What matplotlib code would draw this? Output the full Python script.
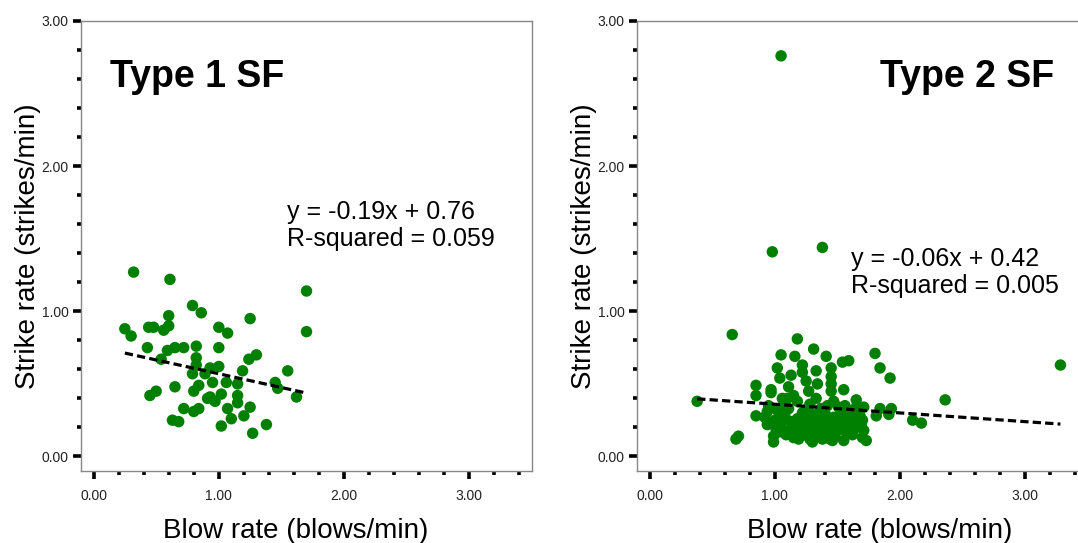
import matplotlib
matplotlib.use("Agg")
import matplotlib.pyplot as plt
import numpy as np
from matplotlib.ticker import MultipleLocator, FormatStrFormatter

plt.rcParams['font.family'] = ['Liberation Sans', 'DejaVu Sans']

# blow rate vs strike rate, type 1 stone flakes
blow1 = [0.32, 0.61, 1.70, 0.79, 0.86, 0.60, 1.25, 0.25, 0.30, 0.44, 0.48, 0.60,
         0.56, 1.00, 1.07, 1.70, 0.43, 0.59, 0.65, 0.72, 0.82, 1.00, 0.54, 0.82,
         0.82, 1.30, 1.24, 1.00, 0.93, 0.79, 0.89, 1.19, 1.55, 0.95, 1.06, 1.15,
         1.45, 1.47, 1.62, 0.50, 0.45, 0.65, 0.84, 0.80, 0.93, 0.97, 1.02, 1.15,
         1.15, 0.72, 0.80, 0.84, 1.07, 1.25, 1.20, 1.10, 0.63, 0.68, 1.02, 1.38,
         1.27, 0.91]
strike1 = [1.27, 1.22, 1.14, 1.04, 0.99, 0.97, 0.95, 0.88, 0.83, 0.89, 0.89, 0.90,
           0.87, 0.89, 0.85, 0.86, 0.75, 0.73, 0.75, 0.75, 0.76, 0.75, 0.67, 0.68,
           0.63, 0.70, 0.67, 0.62, 0.61, 0.57, 0.57, 0.59, 0.59, 0.51, 0.51, 0.50,
           0.51, 0.47, 0.41, 0.45, 0.42, 0.48, 0.49, 0.45, 0.41, 0.38, 0.43, 0.42,
           0.37, 0.33, 0.31, 0.33, 0.33, 0.34, 0.28, 0.26, 0.25, 0.24, 0.21, 0.22,
           0.16, 0.40]

# type 2 stone flakes
blow2 = [1.05, 0.98, 1.38, 0.66, 3.28, 2.36, 0.38,
         1.18, 1.05, 1.16, 1.31, 1.41, 1.54, 1.59, 1.80, 1.84, 1.92, 1.02, 1.22,
         1.22, 1.33, 1.45, 1.45, 1.45, 1.04, 1.13, 1.11, 1.25, 1.34, 0.85, 0.85,
         0.97, 0.97, 1.15, 1.27, 1.33, 1.45, 1.55, 1.06, 1.47, 1.56, 1.65, 1.65,
         0.85, 0.94, 0.71, 0.69, 0.99, 0.99, 1.08, 1.18, 1.31, 1.40, 1.50, 1.55,
         1.63, 1.70, 1.71, 1.73, 1.55, 1.44, 1.30, 1.18, 1.09, 1.31, 1.15, 1.42,
         1.61, 1.01, 1.03, 1.26, 1.37, 1.11, 1.55, 0.94, 2.10, 2.17, 1.84, 1.93,
         1.81, 1.91, 1.71, 1.69,
         1.05, 1.12, 1.20, 1.25, 1.30, 1.35, 1.40, 1.45, 1.50, 1.58, 1.62, 1.68,
         1.00, 1.08, 1.15, 1.22, 1.28, 1.33, 1.38, 1.48, 1.55, 1.65, 1.70, 1.18,
         1.28, 1.42, 1.10, 0.95, 1.02, 1.60,
         1.04, 1.13, 1.24, 1.36, 1.47, 1.57, 1.66, 1.07, 1.19, 1.32, 1.43, 1.52,
         1.63, 0.92, 1.26, 1.39, 1.51, 1.21, 1.35, 1.46]
strike2 = [2.76, 1.41, 1.44, 0.84, 0.63, 0.39, 0.38,
           0.81, 0.70, 0.69, 0.74, 0.69, 0.65, 0.66, 0.71, 0.61, 0.54, 0.61, 0.63,
           0.58, 0.59, 0.61, 0.55, 0.50, 0.54, 0.56, 0.48, 0.52, 0.50, 0.49, 0.42,
           0.46, 0.44, 0.42, 0.45, 0.40, 0.45, 0.46, 0.40, 0.38, 0.35, 0.39, 0.34,
           0.28, 0.22, 0.14, 0.12, 0.14, 0.10, 0.31, 0.26, 0.28, 0.25, 0.25, 0.27,
           0.24, 0.25, 0.18, 0.11, 0.11, 0.12, 0.10, 0.14, 0.15, 0.18, 0.19, 0.18,
           0.18, 0.19, 0.26, 0.33, 0.33, 0.33, 0.31, 0.31, 0.25, 0.23, 0.33, 0.33,
           0.28, 0.29, 0.34, 0.22,
           0.22, 0.18, 0.22, 0.15, 0.25, 0.20, 0.30, 0.22, 0.18, 0.22, 0.15, 0.28,
           0.25, 0.28, 0.13, 0.30, 0.12, 0.15, 0.12, 0.14, 0.20, 0.20, 0.13, 0.38,
           0.36, 0.35, 0.40, 0.35, 0.32, 0.30,
           0.17, 0.24, 0.27, 0.24, 0.27, 0.17, 0.24, 0.35, 0.12, 0.29, 0.19, 0.28,
           0.32, 0.27, 0.21, 0.16, 0.34, 0.16, 0.26, 0.11]

slope1, icept1, r2_1 = -0.19, 0.76, 0.059
slope2, icept2, r2_2 = -0.06, 0.42, 0.005

green = '#008000'
W, H = 1078, 543
fig = plt.figure(figsize=(W / 100, H / 100), dpi=100)


def panel(left, blow, strike, slope, icept, r2, title, title_x, eq_x, eq_y, xlab_x):
    ax = fig.add_axes([left / W, 72 / H, 451 / W, 450 / H])
    ax.scatter(blow, strike, s=68, color=green, edgecolors='none', zorder=3)
    xs = np.array([min(blow), max(blow)])
    ax.plot(xs, slope * xs + icept, color='black', lw=2.3,
            linestyle=(0, (2.6, 1.3)), zorder=4)

    ax.set_xlim(-0.1, 3.5)
    ax.set_ylim(-0.1, 3.0)
    ax.xaxis.set_major_locator(MultipleLocator(1))
    ax.xaxis.set_minor_locator(MultipleLocator(0.2))
    ax.yaxis.set_major_locator(MultipleLocator(1))
    ax.yaxis.set_minor_locator(MultipleLocator(0.2))
    ax.xaxis.set_major_formatter(FormatStrFormatter('%.2f'))
    ax.yaxis.set_major_formatter(FormatStrFormatter('%.2f'))
    ax.tick_params(which='major', direction='out', length=6, width=2.6,
                   labelsize=10, color='black', labelcolor='#222222', pad=3)
    ax.tick_params(which='minor', direction='out', length=3, width=2.6,
                   color='black')
    ax.tick_params(axis='x', which='major', pad=7)
    for sp in ax.spines.values():
        sp.set_color('#888888')
        sp.set_linewidth(1.0)

    ax.set_xlabel('Blow rate (blows/min)', fontsize=20)
    ax.set_ylabel('Strike rate (strikes/min)', fontsize=20)
    ax.yaxis.set_label_coords(-0.088, 0.5)
    ax.xaxis.set_label_coords(xlab_x, -0.105)
    ax.xaxis.label.set_va('top')

    ax.text(title_x, 0.853, title, transform=ax.transAxes, fontsize=27,
            fontweight='bold', va='baseline')
    ax.text(eq_x, eq_y, 'y = %.2fx + %.2f' % (slope, icept),
            transform=ax.transAxes, fontsize=18, va='baseline')
    ax.text(eq_x, eq_y - 0.06, 'R-squared = %.3f' % r2,
            transform=ax.transAxes, fontsize=18, va='baseline')
    return ax


panel(81, blow1, strike1, slope1, icept1, r2_1, 'Type 1 SF', 0.064, 0.457, 0.56, 0.475)
panel(637, blow2, strike2, slope2, icept2, r2_2, 'Type 2 SF', 0.539, 0.4745, 0.456, 0.539)

fig.savefig('out.png', dpi=100)
